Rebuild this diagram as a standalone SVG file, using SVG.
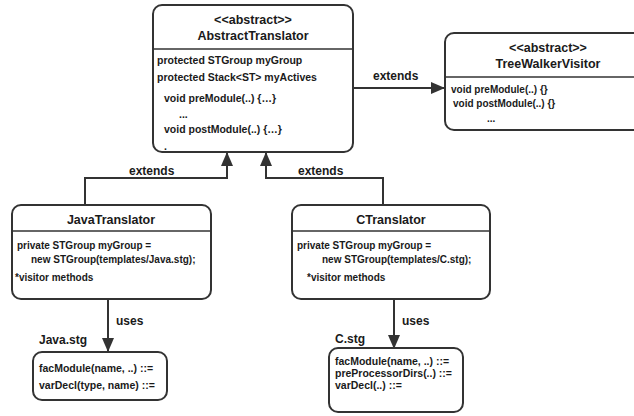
<svg xmlns="http://www.w3.org/2000/svg" width="634" height="416" viewBox="0 0 634 416">
<style>
.box{fill:#fff;stroke:#333;stroke-width:2}
.div{stroke:#333;stroke-width:1.5}
.conn{fill:none;stroke:#333;stroke-width:2}
text{font-family:"Liberation Sans",Arial,Helvetica,sans-serif;font-weight:bold;fill:#1a1a1a}
.title{font-size:12.5px;text-anchor:middle}
.body{font-size:10px}
.big{font-size:10.5px}
.lbl{font-size:12px}
</style>
<defs>
<marker id="arr" markerUnits="userSpaceOnUse" markerWidth="14" markerHeight="12" viewBox="0 0 14 12" refX="13" refY="6" orient="auto">
<path d="M0,0 L14,6 L0,12 Z" fill="#333"/>
</marker>
</defs>
<rect width="634" height="416" fill="#fff"/>
<g id="connectors">
<line class="conn" x1="353" y1="88" x2="444" y2="88" marker-end="url(#arr)"/>
<text class="lbl" x="373" y="80">extends</text>
<path class="conn" d="M85,205 V178 H227 V153" marker-end="url(#arr)"/>
<text class="lbl" x="129" y="175">extends</text>
<path class="conn" d="M383,205 V178 H266 V153" marker-end="url(#arr)"/>
<text class="lbl" x="298" y="175">extends</text>
<line class="conn" x1="108" y1="300" x2="108" y2="351" marker-end="url(#arr)"/>
<text class="lbl" x="116" y="325">uses</text>
<line class="conn" x1="394" y1="300" x2="394" y2="348" marker-end="url(#arr)"/>
<text class="lbl" x="402" y="325">uses</text>
</g>
<g id="AbstractTranslator">
<rect class="box" x="153" y="5" width="200" height="147" rx="9"/>
<line class="div" x1="153" y1="49" x2="353" y2="49"/>
<text class="title" x="253" y="24">&lt;&lt;abstract&gt;&gt;</text>
<text class="title" x="253" y="40">AbstractTranslator</text>
<text class="big" x="157" y="64">protected STGroup myGroup</text>
<text class="big" x="157" y="81">protected Stack&lt;ST&gt; myActives</text>
<text class="big" x="164" y="102">void preModule(..) {…}</text>
<text class="big" x="179" y="118">...</text>
<text class="big" x="164" y="133">void postModule(..) {…}</text>
<text class="big" x="164" y="150">.</text>
</g>
<g id="TreeWalkerVisitor">
<rect class="box" x="445" y="33" width="200" height="97" rx="9"/>
<line class="div" x1="445" y1="77" x2="645" y2="77"/>
<text class="title" x="548" y="52">&lt;&lt;abstract&gt;&gt;</text>
<text class="title" x="548" y="68">TreeWalkerVisitor</text>
<text class="body" x="451" y="93">void preModule(..) {}</text>
<text class="body" x="453" y="107">void postModule(..) {}</text>
<text class="body" x="487" y="122">...</text>
</g>
<g id="JavaTranslator">
<rect class="box" x="12" y="205" width="199" height="94" rx="9"/>
<line class="div" x1="12" y1="231" x2="211" y2="231"/>
<text class="title" x="111" y="224">JavaTranslator</text>
<text class="body" x="17" y="249">private STGroup myGroup =</text>
<text class="body" x="31" y="263">new STGroup(templates/Java.stg);</text>
<text class="body" x="15" y="281">*visitor methods</text>
</g>
<g id="CTranslator">
<rect class="box" x="292" y="205" width="198" height="94" rx="9"/>
<line class="div" x1="292" y1="231" x2="490" y2="231"/>
<text class="title" x="391" y="224">CTranslator</text>
<text class="body" x="297" y="249">private STGroup myGroup =</text>
<text class="body" x="322" y="263">new STGroup(templates/C.stg);</text>
<text class="body" x="307" y="281">*visitor methods</text>
</g>
<g id="JavaStg">
<text class="lbl" x="39" y="344">Java.stg</text>
<rect class="box" x="33" y="352" width="134" height="48" rx="9"/>
<text class="big" x="39" y="372">facModule(name, ..) ::=</text>
<text class="big" x="39" y="389">varDecl(type, name) ::=</text>
</g>
<g id="CStg">
<text class="lbl" x="335" y="343">C.stg</text>
<rect class="box" x="329" y="348" width="134" height="64" rx="9"/>
<text class="big" x="335" y="365">facModule(name, ..) ::=</text>
<text class="big" x="335" y="377">preProcessorDirs(..) ::=</text>
<text class="big" x="335" y="389">varDecl(..) ::=</text>
</g>
</svg>
